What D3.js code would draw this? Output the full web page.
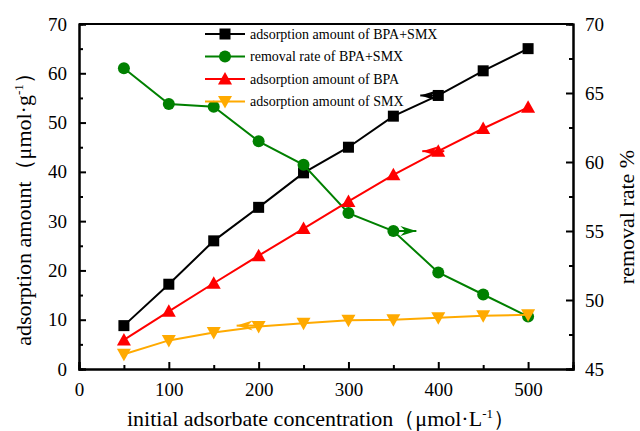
<!DOCTYPE html>
<html><head><meta charset="utf-8">
<script src="https://cdn.jsdelivr.net/npm/d3@7"></script>
<style>body{margin:0;background:#fff}svg{display:block}svg text{font-family:'Liberation Serif','Times New Roman','DejaVu Serif',serif !important}</style>
</head><body><svg id="c" width="640" height="431" style="font-family:'Liberation Serif',serif"></svg>
<script>
const conc = [50,100,150,200,250,300,350,400,450,500];
const adsBoth = [8.8,17.2,26.0,32.8,39.8,45.0,51.3,55.5,60.5,65.0];
const removalBoth = [66.8,64.2,64.0,61.5,59.8,56.3,55.0,52.0,50.4,48.8];
const adsBPA = [5.9,11.7,17.4,23.0,28.5,34.0,39.4,44.2,48.8,53.1];
const adsSMX = [3.0,5.8,7.4,8.6,9.3,9.9,10.0,10.4,10.8,11.0];
const xTicks = [0,100,200,300,400,500];
const yLeftTicks = [0,10,20,30,40,50,60,70];
const yRightTicks = [45,50,55,60,65,70];
const legendLabels = ["adsorption amount of BPA+SMX","removal rate of BPA+SMX","adsorption amount of BPA","adsorption amount of SMX"];

const FONT = "Liberation Serif";
const svg = d3.select("#c");
const L=79, R=573, T=24, B=369;
const x = d3.scaleLinear().domain([0,550]).range([L,R]);
const yl = d3.scaleLinear().domain([0,70]).range([B,T]);
const yr = d3.scaleLinear().domain([45,70]).range([B,T]);

const g = svg.append("g");
g.append("g").attr("transform",`translate(0,${B})`).call(d3.axisBottom(x).tickValues(xTicks).tickSize(-7).tickPadding(14).tickFormat(d3.format("d")));
g.append("g").attr("transform",`translate(0,${B})`).call(d3.axisBottom(x).tickValues([50,150,250,350,450,550]).tickSize(-4).tickFormat(""));
g.append("g").attr("transform",`translate(${L},0)`).call(d3.axisLeft(yl).tickValues(yLeftTicks).tickSize(-7).tickPadding(12));
g.append("g").attr("transform",`translate(${L},0)`).call(d3.axisLeft(yl).tickValues([5,15,25,35,45,55,65]).tickSize(-4).tickFormat(""));
g.append("g").attr("transform",`translate(${R},0)`).call(d3.axisRight(yr).tickValues(yRightTicks).tickSize(-7).tickPadding(12));
g.append("g").attr("transform",`translate(${R},0)`).call(d3.axisRight(yr).tickValues([47.5,52.5,57.5,62.5,67.5]).tickSize(-4).tickFormat(""));
g.selectAll("g").attr("font-family",FONT);
g.selectAll(".domain").attr("stroke","#000").attr("stroke-width",2);
g.selectAll(".tick line").attr("stroke","#000").attr("stroke-width",2);
g.selectAll(".tick text").attr("font-size",19).attr("font-family",FONT).attr("fill","#000");
g.append("line").attr("x1",L).attr("x2",R).attr("y1",T).attr("y2",T).attr("stroke","#000").attr("stroke-width",2);

function arrow(tx,ty,dir,color){
  const len=16, h=5;
  const p = dir<0 ? [[tx,ty],[tx+len,ty-h],[tx+len-5,ty],[tx+len,ty+h]] : [[tx,ty],[tx-len,ty-h],[tx-len+5,ty],[tx-len,ty+h]];
  svg.append("path").attr("d","M"+p.join("L")+"Z").attr("fill",color);
  svg.append("line").attr("x1",tx).attr("x2",tx - dir*22).attr("y1",ty).attr("y2",ty).attr("stroke",color).attr("stroke-width",2);
}

const series = [
  {vals:adsBoth, y:yl, color:"#000000", sym:"square"},
  {vals:removalBoth, y:yr, color:"#008000", sym:"circle"},
  {vals:adsBPA, y:yl, color:"#ff0000", sym:"tri"},
  {vals:adsSMX, y:yl, color:"#ffaa00", sym:"tridown"}
];
function marker(sel, sym, color){
  if(sym==="square") sel.append("rect").attr("x",-5.5).attr("y",-5.5).attr("width",11).attr("height",11).attr("fill",color);
  else if(sym==="circle") sel.append("circle").attr("r",6).attr("fill",color);
  else if(sym==="tri") sel.append("path").attr("d","M0,-7L7,5.5L-7,5.5Z").attr("fill",color);
  else sel.append("path").attr("d","M0,7L7,-5.5L-7,-5.5Z").attr("fill",color);
}
arrow(x(400)-18, yl(adsBoth[7]), -1, "#000");
arrow(x(400)-16, yl(adsBPA[7]), -1, "#ff0000");
arrow(x(350)+23, yr(removalBoth[6]), 1, "#008000");
arrow(x(200)-22, yl(adsSMX[3])-1, -1, "#ffaa00");

series.forEach(s=>{
  const line = d3.line().x((d,i)=>x(conc[i])).y(d=>s.y(d));
  svg.append("path").datum(s.vals).attr("d",line).attr("fill","none").attr("stroke",s.color).attr("stroke-width",2);
  s.vals.forEach((v,i)=>{ const m=svg.append("g").attr("transform",`translate(${x(conc[i])},${s.y(v)})`); marker(m,s.sym,s.color); });
});

const lg = svg.append("g");
series.forEach((s,i)=>{
  const yy = 34 + i*22.5;
  lg.append("line").attr("x1",205).attr("x2",245).attr("y1",yy).attr("y2",yy).attr("stroke",s.color).attr("stroke-width",2);
  marker(lg.append("g").attr("transform",`translate(225,${yy})`), s.sym, s.color);
  lg.append("text").attr("x",250).attr("y",yy+4.5).attr("font-size",14).attr("font-family",FONT).text(legendLabels[i]);
});

const lt = svg.append("text").attr("transform","translate(31,204) rotate(-90)").attr("text-anchor","middle").attr("font-size",22).attr("font-family",FONT);
lt.append("tspan").text("adsorption amount（μmol·g");
lt.append("tspan").attr("dy",-8).attr("font-size",13).text("-1");
lt.append("tspan").attr("dy",8).text("）");
svg.append("text").attr("transform","translate(634,217) rotate(-90)").attr("text-anchor","middle").attr("font-size",22).attr("font-family",FONT).text("removal rate %");
const bt = svg.append("text").attr("x",321).attr("y",426).attr("text-anchor","middle").attr("font-size",22).attr("font-family",FONT);
bt.append("tspan").text("initial adsorbate concentration（μmol·L");
bt.append("tspan").attr("dy",-8).attr("font-size",13).text("-1");
bt.append("tspan").attr("dy",8).text("）");
</script></body></html>
